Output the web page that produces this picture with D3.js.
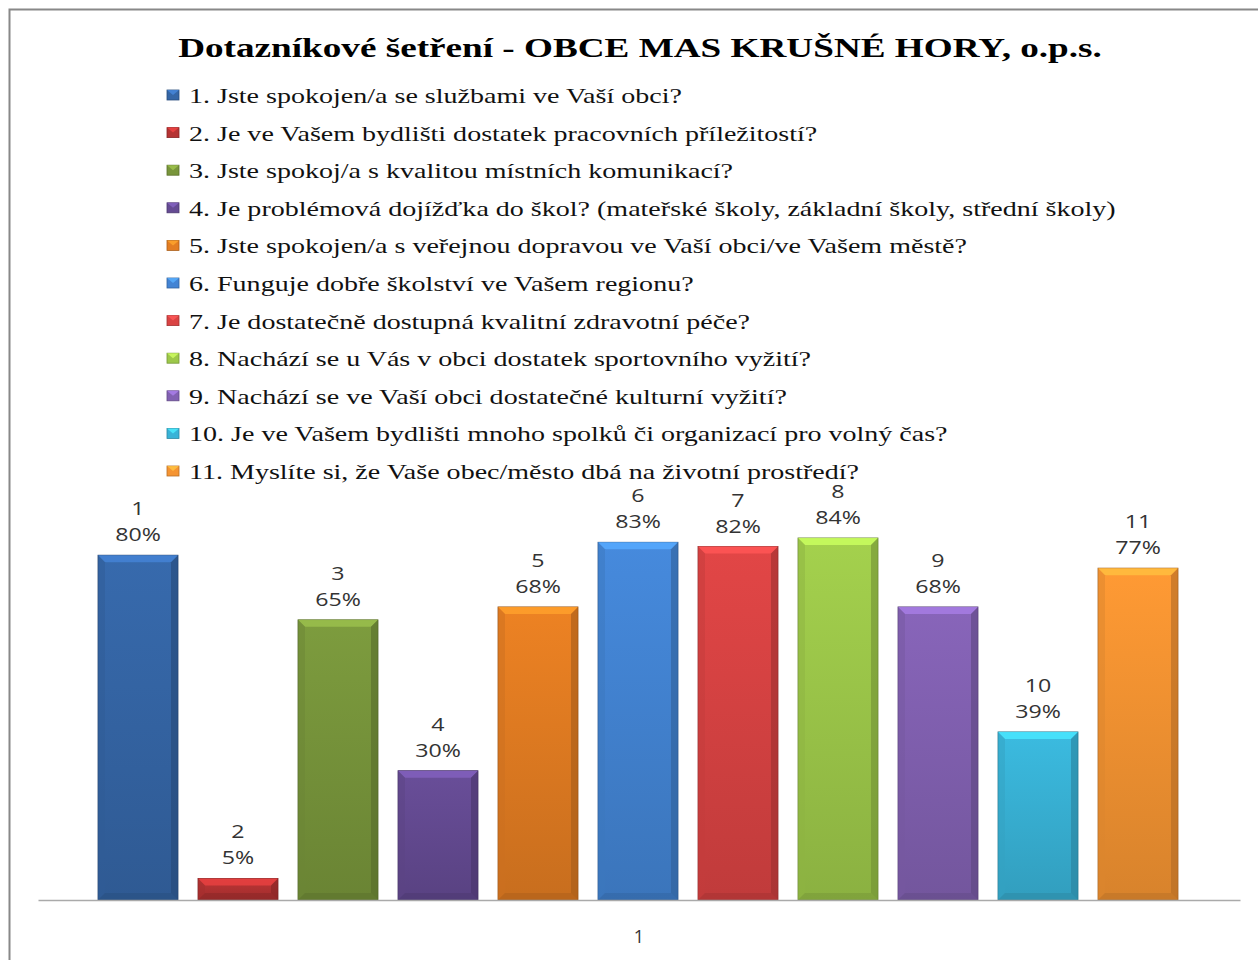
<!DOCTYPE html>
<html>
<head>
<meta charset="utf-8">
<script src="https://cdn.jsdelivr.net/npm/d3@7"></script>
<style>
  html, body { margin: 0; padding: 0; background: #fff; }
  svg { display: block; }
</style>
</head>
<body>
<svg id="chart" width="1258" height="960"></svg>
<script>
const title = "Dotazníkové šetření - OBCE MAS KRUŠNÉ HORY, o.p.s.";
const seriesIds = ["1","2","3","4","5","6","7","8","9","10","11"];
const questions = [
  "1. Jste spokojen/a se službami ve Vaší obci?",
  "2. Je ve Vašem bydlišti dostatek pracovních příležitostí?",
  "3. Jste spokoj/a s kvalitou místních komunikací?",
  "4. Je problémová dojížďka do škol? (mateřské školy, základní školy, střední školy)",
  "5. Jste spokojen/a s veřejnou dopravou ve Vaší obci/ve Vašem městě?",
  "6. Funguje dobře školství ve Vašem regionu?",
  "7. Je dostatečně dostupná kvalitní zdravotní péče?",
  "8. Nachází se u Vás v obci dostatek sportovního vyžití?",
  "9.  Nachází se ve Vaší obci dostatečné kulturní vyžití?",
  "10. Je ve Vašem bydlišti mnoho spolků či organizací pro volný čas?",
  "11. Myslíte si, že Vaše obec/město dbá na životní prostředí?"
];
const values = [0.80, 0.05, 0.65, 0.30, 0.68, 0.83, 0.82, 0.84, 0.68, 0.39, 0.77];
const categoryLabel = "1";
const colors = ["#3566a6","#b53333","#78953b","#654b93","#e37d22","#4384d4","#d94343","#9dc84a","#8261b2","#39b3d7","#f59432"];

const svg = d3.select("#chart");
const serif = "Liberation Serif, Times New Roman, serif";
const lblFont = "Open Sans, Noto Sans, DejaVu Sans, sans-serif";

// frame
svg.append("rect").attr("x", 9.5).attr("y", 9.5).attr("width", 1260).attr("height", 960)
  .attr("fill", "#fff").attr("stroke", "#888").attr("stroke-width", 2);

// title (horizontally stretched like the reference)
const tg = svg.append("g");
const t = tg.append("text").attr("x", 0).attr("y", 0).attr("text-anchor", "middle")
  .attr("font-family", serif).attr("font-weight", "bold")
  .attr("font-size", 28).attr("fill", "#000").text(title);
const tk = 924 / t.node().getComputedTextLength();
tg.attr("transform", `translate(640,57) scale(${tk},1)`);

// legend
const legendY = d3.scalePoint().domain(seriesIds).range([103, 479]);
const rows = svg.append("g").selectAll("g").data(seriesIds).join("g")
  .attr("transform", d => `translate(0,${legendY(d)})`);
rows.append("rect").attr("x", 167).attr("y", -13).attr("width", 12).attr("height", 10)
  .attr("fill", (d, i) => colors[i]).attr("stroke", (d, i) => d3.color(colors[i]).darker(0.8)).attr("stroke-width", 0.8);
rows.append("path")
  .attr("d", "M167,-13L179,-13L173,-8Z")
  .attr("fill", (d, i) => d3.color(colors[i]).brighter(0.8)).attr("opacity", 0.8);
const tgs = rows.append("g");
const ltexts = tgs.append("text").attr("x", 0).attr("y", 0)
  .attr("font-family", serif).attr("font-size", 22)
  .attr("fill", "#111").text((d, i) => questions[i]);
const lk = 927 / ltexts.nodes()[3].getComputedTextLength();
tgs.attr("transform", `translate(189,0) scale(${lk},1)`);

// bars
const x = d3.scaleBand().domain(seriesIds).range([88, 1188]).paddingInner(0.2).paddingOuter(0.1);
const y = d3.scaleLinear().domain([0, 1]).range([900, 469]);

const defs = svg.append("defs");
colors.forEach((c, i) => {
  const g = defs.append("linearGradient").attr("id", "g" + i).attr("x1", 0).attr("y1", 0).attr("x2", 0).attr("y2", 1);
  g.append("stop").attr("offset", "0%").attr("stop-color", d3.color(c).brighter(0.12));
  g.append("stop").attr("offset", "100%").attr("stop-color", d3.color(c).darker(0.35));
});

const bars = svg.append("g").selectAll("g").data(seriesIds).join("g");
const bw = x.bandwidth();
const bev = 7;
bars.append("rect")
  .attr("x", d => x(d)).attr("y", (d, i) => y(values[i]))
  .attr("width", bw).attr("height", (d, i) => y(0) - y(values[i]))
  .attr("fill", (d, i) => `url(#g${i})`)
  .attr("stroke", (d, i) => d3.color(colors[i]).darker(1.2)).attr("stroke-width", 0.8);
bars.append("path")
  .attr("d", (d, i) => {
    const x0 = x(d), x1 = x(d) + bw, yt = y(values[i]);
    const b = Math.min(bev, (y(0) - yt) / 3);
    return `M${x0},${yt}L${x1},${yt}L${x1 - b},${yt + b}L${x0 + b},${yt + b}Z`;
  })
  .attr("fill", (d, i) => d3.color(colors[i]).brighter(0.7)).attr("opacity", 0.85);
bars.append("path")
  .attr("d", (d, i) => {
    const x0 = x(d), yt = y(values[i]), yb = y(0);
    const b = Math.min(bev, (yb - yt) / 3);
    return `M${x0},${yt}L${x0 + b},${yt + b}L${x0 + b},${yb - b}L${x0},${yb}Z`;
  })
  .attr("fill", (d, i) => d3.color(colors[i]).darker(0.3)).attr("opacity", 0.5);
bars.append("path")
  .attr("d", (d, i) => {
    const x1 = x(d) + bw, yt = y(values[i]), yb = y(0);
    const b = Math.min(bev, (yb - yt) / 3);
    return `M${x1},${yt}L${x1 - b},${yt + b}L${x1 - b},${yb - b}L${x1},${yb}Z`;
  })
  .attr("fill", (d, i) => d3.color(colors[i]).darker(0.9)).attr("opacity", 0.6);
bars.append("path")
  .attr("d", (d, i) => {
    const x0 = x(d), x1 = x(d) + bw, yt = y(values[i]), yb = y(0);
    const b = Math.min(bev, (yb - yt) / 3);
    return `M${x0},${yb}L${x0 + b},${yb - b}L${x1 - b},${yb - b}L${x1},${yb}Z`;
  })
  .attr("fill", (d, i) => d3.color(colors[i]).darker(0.8)).attr("opacity", 0.5);

// data labels (stretched horizontally)
const fmt = d3.format(".0%");
const dk = 1.22;
const lab1 = bars.append("g").attr("transform", (d, i) => `translate(${x(d) + bw / 2},${y(values[i]) - 40}) scale(${dk},1)`);
lab1.append("text").attr("text-anchor", "middle").attr("font-family", lblFont).attr("font-size", 19).attr("fill", "#333")
  .text(d => d);
const lab2 = bars.append("g").attr("transform", (d, i) => `translate(${x(d) + bw / 2},${y(values[i]) - 14}) scale(${dk},1)`);
lab2.append("text").attr("text-anchor", "middle").attr("font-family", lblFont).attr("font-size", 19).attr("fill", "#333")
  .text((d, i) => fmt(values[i]));

// axis
const xAxisScale = d3.scaleBand().domain([categoryLabel]).range([38, 1240]);
const axis = svg.append("g").attr("transform", "translate(0,900)")
  .call(d3.axisBottom(xAxisScale).tickSize(0).tickPadding(30));
axis.select(".domain").attr("stroke", "#aaa").attr("stroke-width", 1.5);
axis.selectAll(".tick text").attr("font-family", lblFont).attr("font-size", 18).attr("fill", "#333");
</script>
</body>
</html>
